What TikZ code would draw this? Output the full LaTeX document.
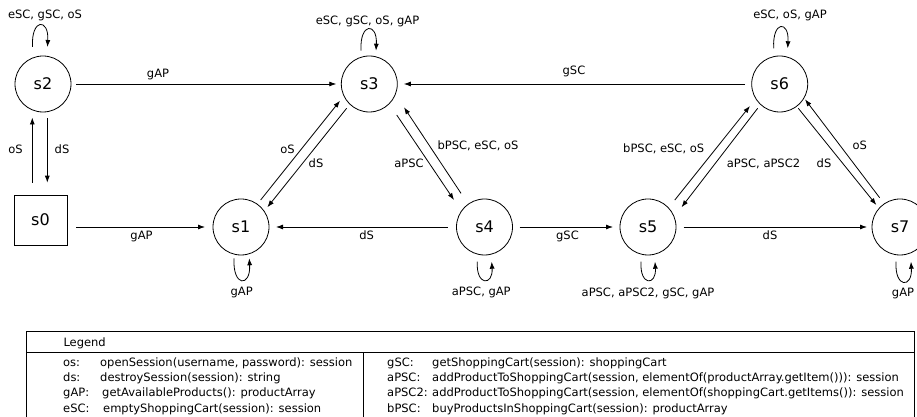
\documentclass[tikz,border=0pt]{standalone}
\usepackage{fontspec}
\setmainfont{DejaVu Sans}
\usetikzlibrary{arrows.meta}
\begin{document}
\begin{tikzpicture}[x=1pt,y=1pt,
  state/.style={circle, draw, line width=0.8pt, minimum size=56pt, inner sep=0pt, outer sep=0pt, font=\fontsize{16}{18}\selectfont},
  startbox/.style={rectangle, draw, line width=0.8pt, minimum width=53pt, minimum height=50pt, inner sep=0pt, outer sep=0pt, font=\fontsize{16}{18}\selectfont},
  lbl/.style={inner sep=0pt, text height=8.4pt, text depth=0pt, font=\fontsize{11.5}{13}\selectfont},
  edge/.style={-{Latex[length=7pt,width=5pt]}, line width=0.8pt},
  frame/.style={line width=0.8pt},
]
\useasboundingbox (0,0) rectangle (917,417);

% states
\node[state] (s2) at (43,333) {s2};
\node[startbox] (s0) at (40.5,197) {s0};
\node[state] (s1) at (241,190) {s1};
\node[state] (s3) at (369.3,333) {s3};
\node[state] (s4) at (484.5,190) {s4};
\node[state] (s5) at (648,190) {s5};
\node[state] (s6) at (779.7,333) {s6};
\node[state] (s7) at (900,190) {s7};

% horizontal edges
\draw[edge, shorten <=5pt, shorten >=5pt] (s2) -- (s3);
\node[lbl] (l23) at (158,344) {gAP};
\draw[edge, shorten <=6.5pt, shorten >=6.5pt] (s6) -- (s3);
\node[lbl] (l63) at (574,346.3) {gSC};
\draw[edge, shorten <=9pt, shorten >=8pt] (s0.east |- s1) -- (s1);
\node[lbl] (l01) at (141.5,182) {gAP};
\draw[edge, shorten <=9pt, shorten >=7pt] (s4) -- (s1);
\node[lbl] (l41) at (366.7,182) {dS};
\draw[edge, shorten <=7pt, shorten >=7pt] (s4) -- (s5);
\node[lbl] (l45) at (567.5,182) {gSC};
\draw[edge, shorten <=7.5pt, shorten >=5pt] (s5) -- (s7);
\node[lbl] (l57) at (770,182) {dS};

% vertical edges s0 <-> s2
\coordinate (va) at ([xshift=-8.2pt]s0.north);
\coordinate (vb) at ([xshift=6.8pt]s0.north);
\draw[edge, shorten <=12pt, shorten >=5.5pt] (va) -- (va |- s2.south);
\draw[edge, shorten <=6.3pt, shorten >=12.3pt] (vb |- s2.south) -- (vb);
\node[lbl] (l02) at (15.5,268) {oS};
\node[lbl] (l20) at (62,268) {dS};

% diagonal edges
\draw[edge] ([shift={(54:33.4)}]s1.center) -- ([shift={(209.7:33.7)}]s3.center);
\draw[edge] ([shift={(227:33.2)}]s3.center) -- ([shift={(36.8:32.9)}]s1.center);
\node[lbl] (l13) at (287.5,267.7) {oS};
\node[lbl] (l31) at (316,253.7) {dS};

\draw[edge] ([shift={(-48.5:41.4)}]s3.center) -- ([shift={(138.5:40.7)}]s4.center);
\draw[edge] ([shift={(124.9:41)}]s4.center) -- ([shift={(-33.9:41.8)}]s3.center);
\node[lbl] (l34) at (409,253.7) {aPSC};
\node[lbl] (l43) at (478,272) {bPSC, eSC, oS};

\draw[edge] ([shift={(45.2:38)}]s5.center) -- ([shift={(216.5:37)}]s6.center);
\draw[edge] ([shift={(227.8:32.8)}]s6.center) -- ([shift={(30.5:38.9)}]s5.center);
\node[lbl] (l56) at (663.7,268.7) {bPSC, eSC, oS};
\node[lbl] (l65) at (763.5,253.7) {aPSC, aPSC2};

\draw[edge] ([shift={(-52.6:30.6)}]s6.center) -- ([shift={(137.1:32.3)}]s7.center);
\draw[edge] ([shift={(124.8:35.7)}]s7.center) -- ([shift={(-31.2:29.6)}]s6.center);
\node[lbl] (l67) at (824,253.7) {dS};
\node[lbl] (l76) at (859.7,272) {oS};

% self loops
\draw[edge] ([shift={(-10.5,37)}]s2.center) .. controls +(-1.5,29) and +(1.5,29) .. ([shift={(4.5,37)}]s2.center);
\node[lbl] (ls2) at (45,403) {eSC, gSC, oS};
\draw[edge] ([shift={(-8.3,33.3)}]s3.center) .. controls +(-1.5,28.5) and +(1.5,28.5) .. ([shift={(6.7,33.3)}]s3.center);
\node[lbl] (ls3) at (367.5,396.3) {eSC, gSC, oS, gAP};
\draw[edge] ([shift={(-6,35.7)}]s6.center) .. controls +(-1.5,28) and +(1.5,28) .. ([shift={(8,35.7)}]s6.center);
\node[lbl] (ls6) at (790,403) {eSC, oS, gAP};
\draw[edge] ([shift={(-7,-31.3)}]s1.center) .. controls +(-1.5,-29) and +(1.5,-29) .. ([shift={(8.3,-31.3)}]s1.center);
\node[lbl] (ls1) at (241.7,125.3) {gAP};
\draw[edge] ([shift={(-7.2,-34.7)}]s4.center) .. controls +(-1.5,-24.4) and +(1.5,-24.4) .. ([shift={(7.2,-34.7)}]s4.center);
\node[lbl] (ls4) at (481.3,125.3) {aPSC, gAP};
\draw[edge] ([shift={(-7,-34.7)}]s5.center) .. controls +(-1.5,-24.4) and +(1.5,-24.4) .. ([shift={(7,-34.7)}]s5.center);
\node[lbl] (ls5) at (648,124.7) {aPSC, aPSC2, gSC, gAP};
\draw[edge] ([shift={(-4,-34.7)}]s7.center) .. controls +(-1.5,-26.7) and +(1.5,-26.7) .. ([shift={(11,-34.7)}]s7.center);
\node[lbl] (ls7) at (903,124.7) {gAP};

% legend
\draw[frame] (26.7,-5) -- (26.7,85.3) -- (914,85.3) -- (914,-5);
\draw[frame] (26.7,64.7) -- (914,64.7);
\draw[frame] (363.3,64.7) -- (363.3,-5);
\node[lbl, anchor=west] (legt) at (63.3,74.7) {Legend};

\node[lbl, anchor=west] (ka) at (63,55) {os:};
\node[lbl, anchor=west] (da) at (100,55) {openSession(username, password): session};
\node[lbl, anchor=west] (kb) at (63,39.7) {ds:};
\node[lbl, anchor=west] (db) at (100,39.7) {destroySession(session): string};
\node[lbl, anchor=west] (kc) at (63,24.4) {gAP:};
\node[lbl, anchor=west] (dc) at (102,24.4) {getAvailableProducts(): productArray};
\node[lbl, anchor=west] (kd) at (63,9.1) {eSC:};
\node[lbl, anchor=west] (dd) at (103,9.1) {emptyShoppingCart(session): session};

\node[lbl, anchor=west] (ke) at (387,55) {gSC:};
\node[lbl, anchor=west] (de) at (432,55) {getShoppingCart(session): shoppingCart};
\node[lbl, anchor=west] (kf) at (387,39.7) {aPSC:};
\node[lbl, anchor=west] (df) at (432,39.7) {addProductToShoppingCart(session, elementOf(productArray.getItem())): session};
\node[lbl, anchor=west] (kg) at (387,24.4) {aPSC2:};
\node[lbl, anchor=west] (dg) at (432,24.4) {addProductToShoppingCart(session, elementOf(shoppingCart.getItems()): session};
\node[lbl, anchor=west] (kh) at (387,9.1) {bPSC:};
\node[lbl, anchor=west] (dh) at (432,9.1) {buyProductsInShoppingCart(session): productArray};
\end{tikzpicture}
\end{document}
